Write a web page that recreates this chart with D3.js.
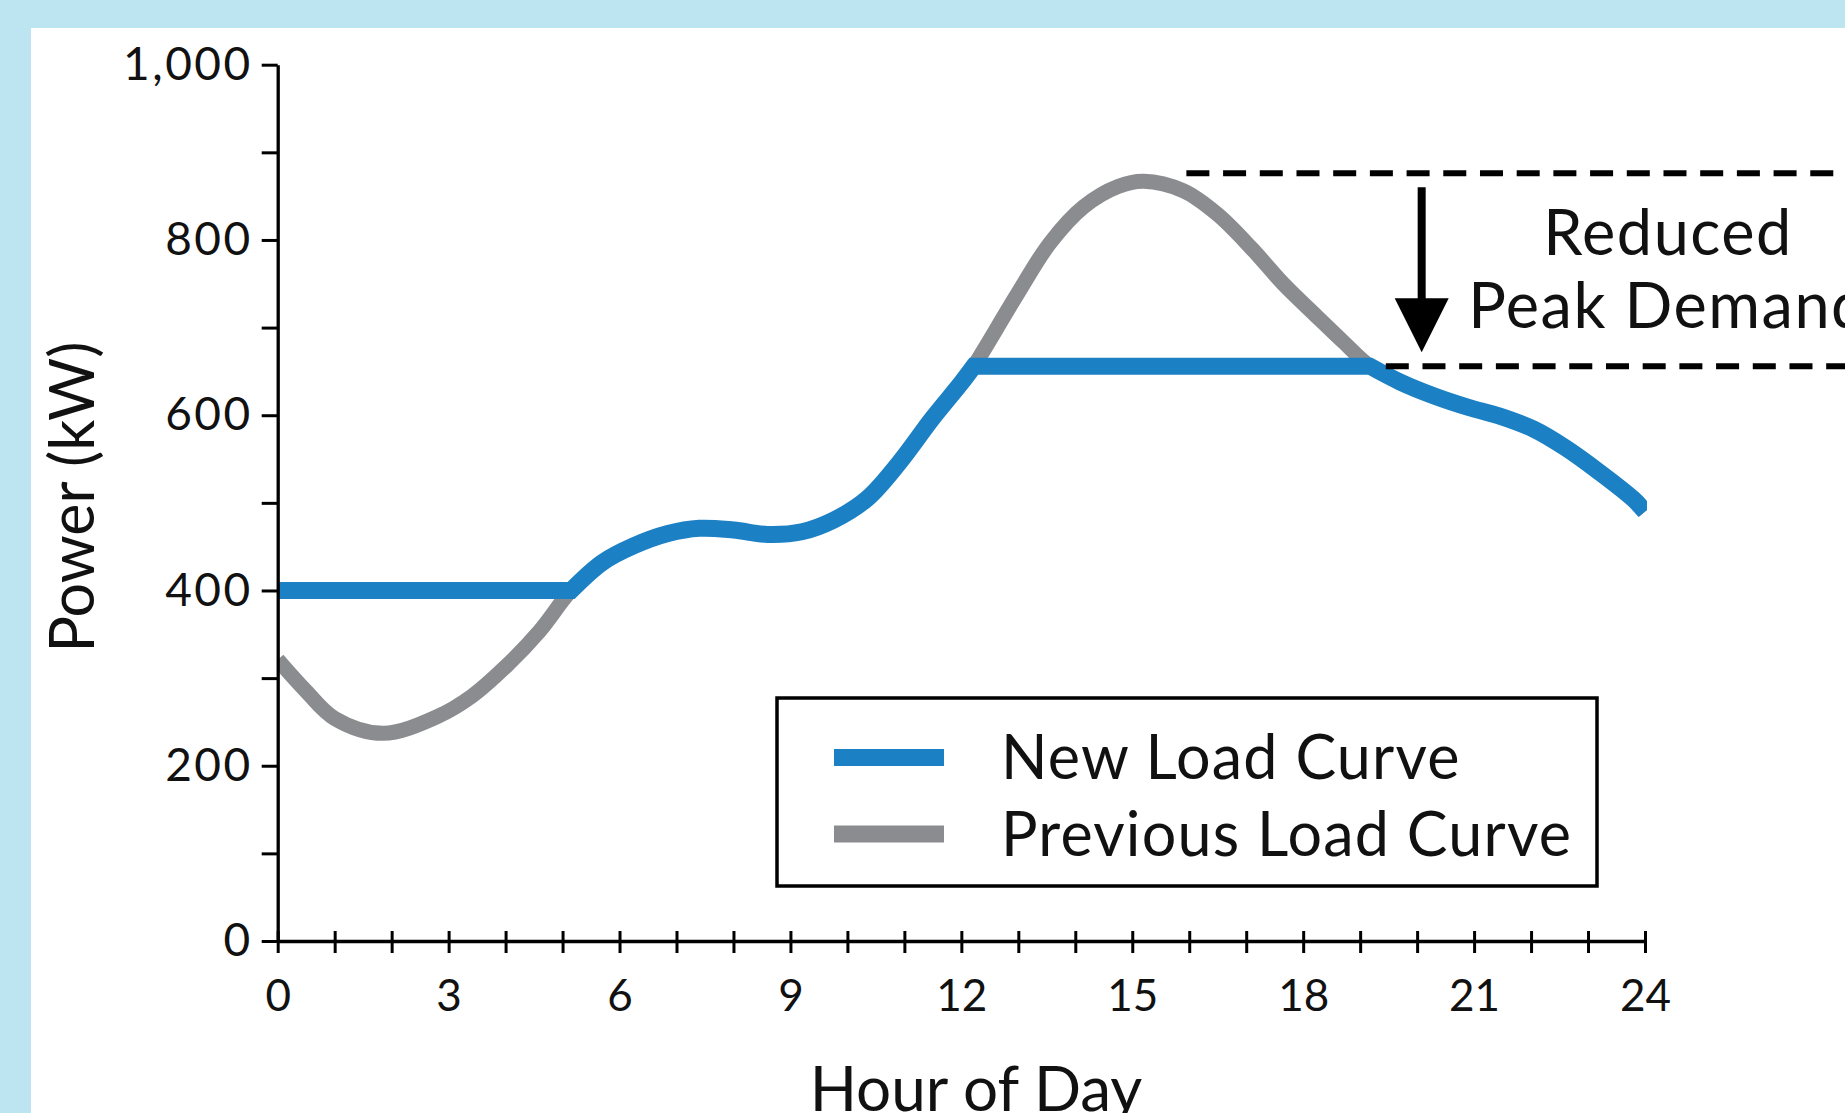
<!DOCTYPE html>
<html>
<head>
<meta charset="utf-8">
<script src="https://d3js.org/d3.v7.min.js"></script>
<style>
  body { margin: 0; background: #bde4f1; }
  svg { display: block; }
  text { font-family: Lato, "Open Sans", sans-serif; fill: #111; }
</style>
</head>
<body>
<svg id="canvas" width="1845" height="1113"></svg>
<script>
// Previous load curve (gray). Hours / kW.
const prevHours = [0, 0.5, 1, 1.85, 2.8, 3.4, 4, 4.6, 5.15, 5.7, 6.25, 6.85, 7.4, 8, 8.6, 9.2, 9.75, 10.35, 10.9, 11.5, 12, 12.22, 12.4, 13, 13.55, 14.15, 14.75, 15.2, 15.9, 16.5, 17.1, 17.65, 18.25, 18.7, 19.17, 19.7, 20.3, 20.9, 21.45, 22.05, 22.6, 23.2, 23.8, 24];
const prevLoad = [321, 285, 254, 237, 256, 279, 313, 354, 400, 432, 451, 465, 471, 469, 464, 467, 480, 505, 545, 597, 637, 656, 675, 740, 796, 838, 861, 867, 856, 829, 790, 750, 712, 684, 656, 638, 622, 609, 599, 584, 563, 535, 504, 490];

// New load curve (blue), flattened at the bottom and at the top.
const newHours = [0, 5.15, 5.7, 6.25, 6.85, 7.4, 8, 8.6, 9.2, 9.75, 10.35, 10.9, 11.5, 12, 12.22, 19.17, 19.7, 20.3, 20.9, 21.45, 22.05, 22.6, 23.2, 23.8, 24];
const newLoad = [400, 400, 432, 451, 465, 471, 469, 464, 467, 480, 505, 545, 597, 637, 656, 656, 638, 622, 609, 599, 584, 563, 535, 504, 490];
const newBreaks = [5.15, 12.22, 19.17]; // hours where the new curve bends sharply

// Peak levels (old, new) for the dashed lines, and where each dashed line starts.
const peakLoads = [876, 656];
const peakLineStart = [15.95, 19.45];
const arrowHour = 20.08;

// Axis ticks
const xTickValues = d3.range(0, 25);
const xLabels = [0, 3, 6, 9, 12, 15, 18, 21, 24];
const yTickValues = [0, 100, 200, 300, 400, 500, 600, 700, 800, 900, 1000];
const yLabels = [0, 200, 400, 600, 800, 1000];

const legendLabels = ['New Load Curve', 'Previous Load Curve'];
const colors = ['#1b80c4', '#8b8c8f'];

const width = 1845, height = 1113;
let canvas = d3.select('#canvas');

//Background: light blue frame with the white panel.
canvas.append('rect').attr('width', width).attr('height', height).attr('fill', '#bde4f1');
canvas.append('rect')
  .attr('x', 31).attr('y', 28)
  .attr('width', width - 31).attr('height', height - 28)
  .attr('fill', '#fff');

const x = d3.scaleLinear().domain([0, 24]).range([277.7, 1645]);
const y = d3.scaleLinear().domain([0, 1000]).range([941, 64.7]);

canvas.append('clipPath').attr('id', 'plotClip')
  .append('rect')
  .attr('x', x(0)).attr('y', 0)
  .attr('width', x(24) - x(0) + 2).attr('height', height);

const line = d3.line()
  .x(d => x(d[0]))
  .y(d => y(d[1]))
  .curve(d3.curveCatmullRom.alpha(0.5));

const prevPoints = d3.zip(prevHours, prevLoad);
const newPoints = d3.zip(newHours, newLoad);

//Split the new curve at its corners, then glue the pieces into one path so the corners stay sharp.
let pieces = [[]];
newPoints.forEach(p => {
  pieces[pieces.length - 1].push(p);
  if (newBreaks.includes(p[0])) pieces.push([p]);
});
const newPath = pieces.filter(s => s.length > 1).map((s, i) => {
  const d = line(s);
  return i === 0 ? d : d.replace(/^M[^A-Za-z]*/, '');
}).join('');

canvas.append('path')
  .attr('d', line(prevPoints))
  .attr('clip-path', 'url(#plotClip)')
  .attr('fill', 'none')
  .attr('stroke', colors[1])
  .attr('stroke-width', 15);

canvas.append('path')
  .attr('d', newPath)
  .attr('clip-path', 'url(#plotClip)')
  .attr('fill', 'none')
  .attr('stroke', colors[0])
  .attr('stroke-width', 17)
  .attr('stroke-linejoin', 'miter');

//Dashed lines at the old and new peak.
canvas.selectAll('.peak')
  .data(peakLoads)
  .enter()
  .append('line')
  .classed('peak', true)
  .attr('x1', (d, i) => x(peakLineStart[i]))
  .attr('x2', width)
  .attr('y1', d => y(d))
  .attr('y2', d => y(d))
  .attr('stroke', '#000')
  .attr('stroke-width', 6)
  .attr('stroke-dasharray', '23,13.7');

//Arrow pointing down from old peak to new peak.
const ax = x(arrowHour);
canvas.append('line')
  .attr('x1', ax).attr('x2', ax)
  .attr('y1', y(peakLoads[0]) + 14)
  .attr('y2', y(peakLoads[1]) - 62)
  .attr('stroke', '#000')
  .attr('stroke-width', 8);
canvas.append('polygon')
  .attr('points', [[ax - 27, y(peakLoads[1]) - 68], [ax + 27, y(peakLoads[1]) - 68], [ax, y(peakLoads[1]) - 14]].join(' '))
  .attr('fill', '#000');

canvas.append('text')
  .attr('x', 1668).attr('y', 255)
  .attr('text-anchor', 'middle')
  .style('font-size', '63px')
  .style('letter-spacing', '1.5px')
  .text('Reduced');
canvas.append('text')
  .attr('x', 1668).attr('y', 328)
  .attr('text-anchor', 'middle')
  .style('font-size', '63px')
  .style('letter-spacing', '1.5px')
  .text('Peak Demand');

//Axes
const yAxis = d3.axisLeft(y)
  .tickValues(yTickValues)
  .tickFormat(d => yLabels.includes(d) ? d3.format(',')(d) : '')
  .tickSize(16)
  .tickSizeOuter(0)
  .tickPadding(9);

let gy = canvas.append('g')
  .attr('transform', `translate(${x(0)},0)`)
  .call(yAxis);

const xAxis = d3.axisBottom(x)
  .tickValues(xTickValues)
  .tickFormat(d => xLabels.includes(d) ? d : '')
  .tickSizeInner(12)
  .tickSizeOuter(0)
  .tickPadding(27);

let gx = canvas.append('g')
  .attr('transform', `translate(0,${y(0)})`)
  .call(xAxis);
gx.selectAll('.tick line').attr('y1', -10).attr('y2', 12);

[gx, gy].forEach(g => {
  g.select('.domain').attr('stroke', '#000').attr('stroke-width', 3.3);
  g.selectAll('.tick line').attr('stroke', '#000').attr('stroke-width', 3);
  g.selectAll('.tick text')
    .attr('fill', '#111')
    .style('font-family', 'Lato, "Open Sans", sans-serif')
    .style('font-size', '44px');
});
gy.selectAll('.tick text').style('font-size', '46px').style('letter-spacing', '2.5px');

//Axis titles
canvas.append('text')
  .attr('x', 976).attr('y', 1111)
  .attr('text-anchor', 'middle')
  .style('font-size', '62px')
  .text('Hour of Day');

canvas.append('text')
  .attr('transform', 'translate(94,497) rotate(-90)')
  .attr('text-anchor', 'middle')
  .style('font-size', '61px')
  .text('Power (kW)');

//Legend
let legend = canvas.append('g');
legend.append('rect')
  .attr('x', 777).attr('y', 698)
  .attr('width', 820).attr('height', 188)
  .attr('fill', '#fff')
  .attr('stroke', '#000')
  .attr('stroke-width', 3.5);

legend.selectAll('.swatch')
  .data(legendLabels)
  .enter()
  .append('rect')
  .classed('swatch', true)
  .attr('x', 834)
  .attr('y', (d, i) => 749 + i * 76.5)
  .attr('width', 110)
  .attr('height', 17)
  .attr('fill', (d, i) => colors[i]);

legend.selectAll('.label')
  .data(legendLabels)
  .enter()
  .append('text')
  .classed('label', true)
  .attr('x', 1001)
  .attr('y', (d, i) => 779 + i * 77)
  .style('font-size', '61px')
  .style('letter-spacing', '1.2px')
  .text(d => d);
</script>
</body>
</html>
